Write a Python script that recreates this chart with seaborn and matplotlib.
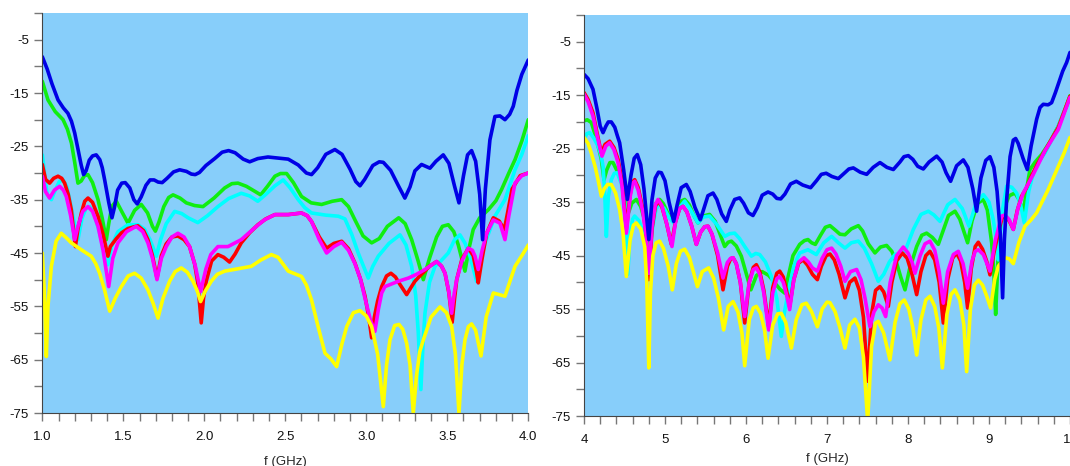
import matplotlib.pyplot as plt
import matplotlib.ticker as ticker
import seaborn as sns

# (f in GHz, |S| in dB)

# Left panel: 1 - 4 GHz
L_BLUE = [(1.0, -8.2), (1.03, -10.5), (1.06, -13.3), (1.097, -16.3), (1.13, -17.8), (1.158, -18.8), (1.18, -20.3),
          (1.2, -22.5), (1.22, -25.5), (1.24, -28.5), (1.255, -30.3), (1.27, -29.6), (1.29, -27.6), (1.31, -26.8),
          (1.333, -26.6), (1.355, -27.5), (1.37, -29.0), (1.385, -31.3), (1.41, -35.5), (1.43, -38.4), (1.445, -36.5),
          (1.465, -33.2), (1.49, -31.9), (1.512, -31.8), (1.54, -32.8), (1.565, -35.0), (1.586, -35.8), (1.61, -34.5),
          (1.64, -32.3), (1.665, -31.3), (1.69, -31.3), (1.715, -31.7), (1.74, -31.8), (1.77, -31.0), (1.81, -29.8),
          (1.848, -29.4), (1.89, -29.7), (1.92, -30.2), (1.944, -30.3), (1.97, -29.9), (2.01, -28.6), (2.064, -27.3),
          (2.11, -26.1), (2.15, -25.8), (2.19, -26.2), (2.24, -27.4), (2.28, -27.9), (2.33, -27.3), (2.393, -27.0),
          (2.455, -27.2), (2.518, -27.4), (2.58, -28.5), (2.63, -30.0), (2.662, -30.3), (2.7, -29.0), (2.75, -26.5),
          (2.806, -25.6), (2.85, -26.5), (2.9, -29.3), (2.935, -31.6), (2.961, -32.4), (2.99, -31.2), (3.04, -28.6),
          (3.08, -27.9), (3.105, -28.0), (3.15, -29.5), (3.2, -32.5), (3.238, -34.7), (3.27, -32.6), (3.3, -29.6),
          (3.341, -28.4), (3.393, -29.1), (3.43, -27.8), (3.475, -26.6), (3.51, -28.2), (3.545, -32.5),
          (3.572, -35.6), (3.6, -30.5), (3.625, -26.6), (3.65, -25.8), (3.675, -27.8), (3.7, -34.0), (3.718, -42.5),
          (3.735, -33.0), (3.763, -23.8), (3.794, -19.4), (3.825, -19.3), (3.856, -20.0), (3.885, -19.0),
          (3.907, -17.5), (3.93, -14.5), (3.96, -11.5), (4.0, -8.8)]

L_GREEN = [(1.0, -12.8), (1.035, -16.3), (1.08, -18.5), (1.128, -20.0), (1.155, -21.8), (1.18, -24.4), (1.2, -28.0),
           (1.22, -31.9), (1.24, -31.5), (1.26, -30.5), (1.282, -30.3), (1.31, -31.8), (1.344, -35.0), (1.37, -38.5),
           (1.395, -42.5), (1.41, -39.5), (1.43, -36.2), (1.457, -35.3), (1.49, -37.2), (1.529, -39.4), (1.57, -37.0),
           (1.611, -35.9), (1.65, -37.5), (1.68, -40.0), (1.698, -40.9), (1.72, -39.2), (1.75, -36.3), (1.78, -34.6),
           (1.807, -34.1), (1.85, -34.7), (1.889, -35.6), (1.94, -36.1), (1.992, -36.3), (2.06, -34.7),
           (2.126, -32.8), (2.17, -32.0), (2.208, -31.9), (2.26, -32.5), (2.31, -33.4), (2.348, -34.1),
           (2.39, -32.5), (2.436, -30.6), (2.47, -30.1), (2.508, -30.1), (2.55, -31.8), (2.6, -34.4), (2.66, -35.6),
           (2.724, -35.9), (2.79, -35.3), (2.848, -35.0), (2.89, -36.3), (2.93, -38.8), (2.98, -41.8), (3.033, -43.1),
           (3.08, -42.3), (3.13, -40.0), (3.2, -38.4), (3.24, -39.5), (3.28, -42.5), (3.32, -46.5), (3.352, -50.0),
           (3.39, -46.0), (3.434, -42.0), (3.47, -40.0), (3.506, -39.7), (3.54, -41.0), (3.568, -43.5),
           (3.609, -48.4), (3.635, -44.0), (3.66, -40.6), (3.7, -38.4), (3.753, -36.9), (3.8, -35.2), (3.835, -33.1),
           (3.88, -30.0), (3.918, -27.5), (3.96, -24.0), (4.0, -20.0)]

L_CYAN = [(1.0, -26.6), (1.015, -30.5), (1.03, -34.0), (1.056, -35.0), (1.08, -33.2), (1.105, -31.6), (1.128, -31.3),
          (1.15, -32.5), (1.169, -35.0), (1.195, -39.0), (1.22, -42.5), (1.245, -38.5), (1.27, -36.6),
          (1.292, -36.3), (1.32, -37.6), (1.354, -41.3), (1.38, -44.5), (1.405, -47.2), (1.43, -43.5),
          (1.467, -41.0), (1.529, -39.7), (1.59, -39.7), (1.63, -40.5), (1.665, -42.5), (1.704, -45.6),
          (1.73, -42.5), (1.765, -39.5), (1.817, -37.2), (1.86, -37.6), (1.9, -38.4), (1.96, -39.3), (2.02, -38.0),
          (2.084, -36.3), (2.15, -34.8), (2.228, -33.8), (2.28, -34.3), (2.33, -35.3), (2.38, -34.0),
          (2.436, -32.4), (2.487, -31.3), (2.53, -32.8), (2.58, -35.0), (2.62, -36.5), (2.662, -37.5),
          (2.75, -37.9), (2.827, -38.1), (2.868, -38.6), (2.91, -41.5), (2.95, -45.0), (3.012, -49.7),
          (3.04, -47.5), (3.074, -45.6), (3.14, -43.2), (3.208, -41.6), (3.245, -43.5), (3.28, -47.5),
          (3.305, -53.0), (3.321, -60.0), (3.337, -70.6), (3.35, -62.0), (3.362, -56.3), (3.39, -50.5),
          (3.424, -47.5), (3.46, -46.5), (3.506, -45.0), (3.545, -42.5), (3.578, -41.6), (3.61, -43.2),
          (3.64, -45.6), (3.681, -50.3), (3.705, -46.5), (3.733, -43.1), (3.794, -38.1), (3.856, -35.0),
          (3.918, -29.4), (3.96, -26.5), (4.0, -23.0)]

L_RED = [(1.0, -28.4), (1.02, -31.2), (1.045, -31.9), (1.07, -31.0), (1.097, -30.6), (1.12, -31.0), (1.138, -31.9),
         (1.16, -34.0), (1.179, -36.9), (1.204, -43.8), (1.22, -40.5), (1.241, -37.5), (1.262, -35.3),
         (1.282, -34.7), (1.31, -35.5), (1.344, -38.1), (1.375, -41.5), (1.405, -45.6), (1.42, -43.8),
         (1.457, -42.3), (1.49, -41.2), (1.529, -40.4), (1.59, -39.9), (1.625, -40.8), (1.652, -42.5),
         (1.68, -45.5), (1.708, -49.7), (1.735, -45.5), (1.765, -43.3), (1.8, -42.0), (1.837, -41.8),
         (1.875, -42.5), (1.909, -43.8), (1.94, -47.0), (1.96, -50.6), (1.981, -58.1), (1.995, -53.5),
         (2.012, -50.3), (2.045, -46.5), (2.084, -45.3), (2.12, -45.8), (2.156, -46.7), (2.19, -45.2),
         (2.228, -43.1), (2.28, -41.2), (2.331, -39.7), (2.38, -38.6), (2.436, -37.8), (2.518, -37.8),
         (2.6, -37.5), (2.635, -38.0), (2.662, -39.1), (2.71, -42.0), (2.755, -44.1), (2.8, -43.2), (2.848, -42.8),
         (2.89, -44.2), (2.93, -46.9), (2.965, -50.0), (2.992, -53.1), (3.015, -57.0), (3.033, -60.9),
         (3.05, -57.0), (3.07, -54.0), (3.095, -51.3), (3.125, -49.3), (3.152, -48.8), (3.18, -49.5),
         (3.208, -50.9), (3.249, -52.8), (3.275, -51.5), (3.3, -50.3), (3.34, -49.0), (3.39, -47.5),
         (3.434, -46.6), (3.465, -47.5), (3.486, -48.8), (3.51, -52.5), (3.53, -58.0), (3.545, -53.5),
         (3.558, -50.0), (3.59, -46.2), (3.63, -44.1), (3.66, -45.5), (3.68, -48.5), (3.691, -50.6), (3.715, -46.0),
         (3.743, -41.3), (3.784, -38.4), (3.82, -39.0), (3.852, -40.6), (3.875, -37.0), (3.9, -33.0),
         (3.95, -30.5), (4.0, -30.0)]

L_MAGENTA = [(1.0, -30.6), (1.02, -33.5), (1.045, -34.7), (1.075, -33.2), (1.107, -32.5), (1.13, -33.2),
             (1.148, -34.4), (1.175, -38.0), (1.2, -42.5), (1.22, -40.0), (1.25, -37.2), (1.282, -36.3),
             (1.31, -37.2), (1.344, -40.0), (1.375, -44.5), (1.41, -51.3), (1.435, -46.0), (1.467, -43.1),
             (1.52, -41.0), (1.58, -40.0), (1.62, -41.0), (1.652, -43.1), (1.68, -46.0), (1.708, -50.0),
             (1.735, -46.0), (1.765, -43.8), (1.8, -42.0), (1.837, -41.3), (1.875, -42.0), (1.909, -43.8),
             (1.945, -47.5), (1.977, -52.2), (2.01, -48.0), (2.04, -45.3), (2.084, -43.8), (2.146, -43.8),
             (2.228, -42.5), (2.31, -40.3), (2.37, -38.8), (2.436, -37.8), (2.518, -37.8), (2.6, -37.5),
             (2.635, -38.0), (2.662, -39.1), (2.71, -42.5), (2.755, -45.0), (2.8, -43.8), (2.848, -43.0),
             (2.89, -44.5), (2.93, -47.0), (2.965, -50.0), (2.992, -53.5), (3.025, -57.5), (3.053, -59.7),
             (3.075, -55.5), (3.095, -52.5), (3.115, -51.3), (3.198, -50.3), (3.26, -49.7), (3.31, -49.0),
             (3.362, -48.1), (3.4, -47.3), (3.434, -46.6), (3.465, -47.5), (3.486, -48.8), (3.508, -52.0),
             (3.527, -56.3), (3.543, -52.5), (3.558, -50.0), (3.59, -46.5), (3.63, -44.1), (3.655, -44.5),
             (3.671, -45.6), (3.691, -48.1), (3.715, -44.5), (3.743, -41.3), (3.784, -38.8), (3.825, -39.4),
             (3.856, -42.5), (3.88, -38.0), (3.918, -31.9), (3.96, -30.5), (4.0, -30.0)]

L_YELLOW = [(1.0, -45.0), (1.012, -52.0), (1.025, -64.4), (1.035, -55.0), (1.056, -47.5), (1.085, -42.8),
            (1.117, -41.3), (1.15, -42.2), (1.179, -43.1), (1.241, -44.4), (1.302, -45.6), (1.33, -47.0),
            (1.354, -48.8), (1.385, -52.0), (1.416, -55.9), (1.45, -53.5), (1.488, -51.3), (1.53, -49.3),
            (1.57, -48.8), (1.61, -49.7), (1.652, -51.9), (1.685, -54.5), (1.714, -57.2), (1.745, -53.5),
            (1.786, -50.3), (1.82, -48.5), (1.858, -47.8), (1.895, -48.6), (1.93, -50.3), (1.955, -52.0),
            (1.977, -54.1), (2.005, -52.2), (2.043, -50.3), (2.08, -49.0), (2.126, -48.4), (2.2, -48.0),
            (2.29, -47.5), (2.35, -46.3), (2.414, -45.3), (2.455, -45.8), (2.518, -48.4), (2.6, -49.4),
            (2.63, -51.0), (2.662, -53.8), (2.7, -58.5), (2.745, -63.8), (2.78, -64.8), (2.817, -66.3),
            (2.85, -62.0), (2.879, -58.8), (2.92, -56.2), (2.961, -55.8), (3.0, -56.8), (3.033, -58.8),
            (3.07, -64.0), (3.105, -73.8), (3.125, -66.0), (3.146, -61.3), (3.175, -58.6), (3.202, -58.4),
            (3.225, -59.3), (3.249, -61.9), (3.27, -66.0), (3.29, -75.0), (3.31, -68.0), (3.33, -63.5),
            (3.352, -61.3), (3.4, -57.0), (3.455, -55.1), (3.495, -56.2), (3.527, -58.8), (3.55, -64.0),
            (3.572, -75.0), (3.59, -66.0), (3.609, -61.3), (3.63, -58.8), (3.65, -58.3), (3.675, -59.5),
            (3.708, -64.3), (3.74, -57.0), (3.784, -52.5), (3.82, -52.8), (3.856, -53.1), (3.89, -50.0),
            (3.918, -47.5), (3.96, -45.5), (4.0, -43.5)]

# Right panel: 4 - 10 GHz
R_BLUE = [(4.0, -11.1), (4.05, -11.9), (4.111, -13.9), (4.16, -17.5), (4.2, -20.8), (4.235, -22.0), (4.27, -20.8),
          (4.3, -20.0), (4.337, -20.0), (4.38, -21.0), (4.41, -22.5), (4.44, -23.9), (4.49, -29.0), (4.535, -34.5),
          (4.58, -30.0), (4.62, -26.8), (4.658, -26.1), (4.7, -28.0), (4.74, -32.5), (4.8, -42.0), (4.84, -34.5),
          (4.88, -30.5), (4.92, -29.4), (4.955, -29.5), (5.0, -31.0), (5.05, -35.0), (5.107, -38.6), (5.15, -35.5),
          (5.2, -32.3), (5.263, -31.7), (5.31, -33.0), (5.37, -36.0), (5.436, -38.3), (5.48, -36.2), (5.53, -33.8),
          (5.593, -33.3), (5.64, -34.5), (5.7, -37.2), (5.757, -38.6), (5.8, -36.5), (5.86, -34.5), (5.922, -34.2),
          (5.97, -35.2), (6.03, -37.0), (6.086, -37.5), (6.14, -36.0), (6.2, -33.7), (6.272, -33.1), (6.33, -33.5),
          (6.38, -34.3), (6.428, -34.4), (6.48, -33.5), (6.55, -31.6), (6.621, -31.1), (6.7, -31.8), (6.798, -32.3),
          (6.87, -31.0), (6.93, -29.8), (6.99, -29.6), (7.06, -30.2), (7.14, -30.6), (7.22, -29.5), (7.27, -28.8),
          (7.325, -28.6), (7.41, -29.4), (7.49, -29.8), (7.57, -28.5), (7.654, -27.6), (7.74, -28.5),
          (7.819, -28.9), (7.9, -27.5), (7.95, -26.5), (8.004, -26.3), (8.06, -27.0), (8.12, -28.3), (8.189, -28.8),
          (8.26, -27.5), (8.354, -26.4), (8.42, -27.5), (8.47, -29.5), (8.526, -31.1), (8.6, -28.2), (8.683, -27.1),
          (8.74, -28.5), (8.8, -32.5), (8.847, -36.7), (8.9, -30.5), (8.96, -27.2), (9.012, -26.5), (9.06, -28.5),
          (9.1, -33.0), (9.14, -41.0), (9.168, -52.9), (9.19, -42.0), (9.218, -34.5), (9.26, -26.5), (9.3, -23.4),
          (9.329, -23.1), (9.36, -24.0), (9.42, -26.8), (9.473, -28.9), (9.52, -24.5), (9.588, -19.5),
          (9.63, -17.3), (9.67, -16.7), (9.73, -16.8), (9.773, -16.4), (9.82, -14.5), (9.856, -12.9),
          (9.91, -10.5), (9.958, -8.9), (10.0, -7.0)]

R_GREEN = [(4.0, -19.8), (4.04, -19.6), (4.09, -20.1), (4.15, -23.0), (4.214, -27.0), (4.247, -30.8), (4.28, -29.0),
           (4.32, -27.6), (4.358, -27.6), (4.42, -29.5), (4.48, -32.0), (4.535, -37.6), (4.59, -35.2),
           (4.646, -34.5), (4.7, -35.8), (4.77, -39.5), (4.81, -43.3), (4.85, -38.0), (4.89, -35.2), (4.934, -34.5),
           (4.98, -35.3), (5.04, -37.2), (5.1, -38.3), (5.16, -36.0), (5.2, -34.8), (5.243, -34.5), (5.3, -35.5),
           (5.36, -37.6), (5.407, -38.9), (5.47, -37.6), (5.55, -37.3), (5.62, -38.6), (5.68, -41.0),
           (5.737, -43.3), (5.78, -42.5), (5.82, -42.3), (5.88, -43.2), (5.942, -45.1), (6.0, -48.2), (6.06, -51.4),
           (6.13, -48.7), (6.2, -48.0), (6.28, -48.7), (6.35, -50.0), (6.42, -51.3), (6.477, -52.0), (6.52, -49.0),
           (6.58, -45.0), (6.663, -42.9), (6.72, -42.2), (6.765, -42.0), (6.81, -42.6), (6.856, -42.9),
           (6.92, -41.2), (6.98, -39.7), (7.037, -39.4), (7.1, -40.2), (7.16, -41.0), (7.222, -41.1), (7.3, -40.0),
           (7.387, -39.4), (7.44, -40.4), (7.51, -42.8), (7.592, -44.5), (7.66, -43.4), (7.736, -43.1),
           (7.8, -44.2), (7.86, -46.4), (7.91, -49.0), (7.963, -51.4), (8.02, -47.5), (8.107, -43.3),
           (8.17, -41.2), (8.23, -40.8), (8.3, -41.6), (8.374, -42.9), (8.43, -40.5), (8.5, -37.5), (8.58, -36.7),
           (8.64, -38.2), (8.69, -40.5), (8.736, -42.6), (8.79, -38.5), (8.86, -35.2), (8.93, -34.5),
           (8.98, -36.5), (9.033, -42.6), (9.06, -48.0), (9.082, -56.0), (9.11, -46.0), (9.14, -40.0),
           (9.177, -36.4), (9.25, -33.8), (9.32, -33.3), (9.37, -34.5), (9.424, -37.0), (9.46, -33.0),
           (9.506, -28.9), (9.57, -27.5), (9.65, -26.1), (9.75, -23.8), (9.856, -20.8), (9.93, -18.0),
           (10.0, -15.1)]

R_CYAN = [(4.0, -23.3), (4.035, -22.2), (4.07, -22.0), (4.12, -23.0), (4.173, -24.5), (4.21, -26.2), (4.235, -28.3),
          (4.255, -33.0), (4.276, -41.4), (4.3, -34.0), (4.337, -30.8), (4.375, -29.6), (4.41, -29.5),
          (4.46, -31.5), (4.5, -34.5), (4.52, -39.0), (4.54, -48.5), (4.57, -41.0), (4.6, -38.2), (4.625, -37.6),
          (4.68, -38.5), (4.74, -41.0), (4.8, -44.5), (4.85, -39.5), (4.89, -36.2), (4.934, -35.4), (4.99, -36.2),
          (5.05, -37.9), (5.107, -38.9), (5.17, -36.2), (5.243, -34.8), (5.31, -36.3), (5.407, -38.9),
          (5.47, -37.8), (5.55, -37.6), (5.64, -39.2), (5.737, -41.4), (5.8, -40.9), (5.86, -40.8), (5.92, -41.8),
          (5.984, -43.3), (6.066, -45.1), (6.12, -44.6), (6.169, -44.8), (6.24, -46.2), (6.313, -48.9),
          (6.38, -53.0), (6.436, -60.1), (6.47, -56.0), (6.519, -52.0), (6.59, -47.0), (6.663, -44.5),
          (6.765, -43.9), (6.868, -44.8), (6.96, -42.6), (7.057, -41.4), (7.14, -42.6), (7.222, -43.6),
          (7.3, -42.6), (7.387, -42.3), (7.46, -43.6), (7.55, -46.5), (7.633, -49.8), (7.7, -48.5), (7.77, -46.2),
          (7.839, -44.8), (7.9, -44.6), (7.963, -44.2), (8.066, -40.1), (8.16, -37.3), (8.251, -36.7),
          (8.32, -37.4), (8.395, -38.6), (8.49, -35.5), (8.58, -34.5), (8.67, -36.2), (8.753, -39.5),
          (8.84, -35.2), (8.93, -33.6), (9.0, -35.0), (9.053, -38.3), (9.09, -42.0), (9.115, -45.8),
          (9.16, -37.0), (9.218, -32.0), (9.28, -32.2), (9.341, -33.3), (9.39, -35.5), (9.436, -38.9),
          (9.49, -33.0), (9.547, -29.5), (9.62, -27.3), (9.691, -25.8), (9.77, -23.5), (9.856, -20.8),
          (9.93, -18.0), (10.0, -15.5)]

R_RED = [(4.0, -14.5), (4.05, -15.8), (4.111, -18.3), (4.16, -22.0), (4.214, -25.8), (4.26, -24.2), (4.317, -23.6),
         (4.37, -24.8), (4.42, -27.0), (4.47, -31.0), (4.523, -40.1), (4.57, -33.5), (4.6, -31.2), (4.626, -30.8),
         (4.67, -32.3), (4.728, -36.4), (4.765, -41.0), (4.8, -49.5), (4.84, -40.0), (4.88, -35.8), (4.914, -34.8),
         (4.96, -35.8), (5.02, -39.0), (5.078, -42.9), (5.13, -38.7), (5.18, -36.2), (5.222, -35.8), (5.27, -36.8),
         (5.33, -39.5), (5.387, -42.9), (5.44, -40.6), (5.49, -39.6), (5.531, -39.5), (5.58, -41.0), (5.65, -45.0),
         (5.716, -51.4), (5.77, -47.0), (5.81, -45.6), (5.84, -45.4), (5.88, -46.5), (5.93, -50.0), (5.984, -57.6),
         (6.04, -50.0), (6.09, -47.2), (6.128, -46.7), (6.17, -48.0), (6.22, -51.5), (6.28, -58.3), (6.33, -51.0),
         (6.38, -48.3), (6.416, -47.9), (6.46, -49.0), (6.5, -51.5), (6.539, -54.5), (6.59, -49.5), (6.65, -46.4),
         (6.704, -45.8), (6.76, -46.8), (6.82, -48.5), (6.881, -49.5), (6.93, -47.0), (6.99, -45.0),
         (7.037, -44.7), (7.09, -45.8), (7.15, -48.5), (7.222, -52.9), (7.28, -50.0), (7.345, -49.2),
         (7.4, -51.5), (7.45, -56.5), (7.502, -68.5), (7.55, -56.0), (7.6, -51.5), (7.654, -50.8), (7.7, -51.8),
         (7.757, -54.5), (7.8, -50.0), (7.86, -46.0), (7.93, -44.5), (7.99, -45.5), (8.05, -48.5), (8.107, -52.3),
         (8.16, -48.0), (8.22, -45.0), (8.271, -44.2), (8.33, -45.8), (8.385, -50.0), (8.436, -57.6),
         (8.49, -49.5), (8.55, -45.5), (8.6, -44.5), (8.65, -46.0), (8.7, -50.0), (8.736, -54.8), (8.78, -47.5),
         (8.83, -43.3), (8.868, -42.5), (8.92, -43.8), (8.97, -46.0), (9.012, -48.6), (9.06, -44.5),
         (9.115, -40.8), (9.16, -38.0), (9.197, -37.6), (9.25, -38.5), (9.3, -40.1), (9.35, -36.5), (9.403, -33.9),
         (9.46, -32.4), (9.526, -30.1), (9.6, -27.8), (9.691, -25.4), (9.77, -23.3), (9.856, -21.0), (9.93, -18.0),
         (10.0, -15.2)]

R_MAGENTA = [(4.0, -14.8), (4.05, -16.2), (4.111, -18.9), (4.16, -22.5), (4.222, -26.4), (4.27, -24.5),
             (4.317, -23.9), (4.37, -25.2), (4.42, -27.6), (4.47, -32.0), (4.523, -40.8), (4.57, -34.0),
             (4.6, -31.5), (4.626, -31.1), (4.67, -32.8), (4.728, -37.0), (4.765, -41.0), (4.8, -48.3),
             (4.84, -39.5), (4.88, -35.5), (4.914, -34.5), (4.96, -35.6), (5.02, -39.0), (5.086, -43.3),
             (5.13, -38.7), (5.18, -36.2), (5.222, -35.8), (5.27, -36.8), (5.33, -39.5), (5.387, -42.9),
             (5.44, -40.6), (5.49, -39.6), (5.531, -39.5), (5.58, -41.0), (5.65, -44.5), (5.716, -49.2),
             (5.77, -46.3), (5.81, -45.5), (5.84, -45.4), (5.88, -46.5), (5.93, -50.0), (5.984, -56.4),
             (6.04, -50.0), (6.09, -47.6), (6.128, -47.3), (6.17, -48.5), (6.22, -52.0), (6.28, -58.9),
             (6.33, -52.0), (6.38, -49.3), (6.416, -48.9), (6.46, -50.0), (6.5, -52.3), (6.539, -55.1),
             (6.59, -49.5), (6.65, -46.2), (6.716, -45.4), (6.77, -46.2), (6.82, -47.3), (6.881, -47.9),
             (6.94, -45.5), (7.0, -43.9), (7.057, -43.6), (7.11, -44.7), (7.17, -47.0), (7.222, -49.8),
             (7.29, -48.0), (7.366, -47.6), (7.42, -49.5), (7.47, -53.0), (7.53, -58.3), (7.58, -55.5),
             (7.633, -54.2), (7.68, -54.8), (7.724, -56.4), (7.78, -50.0), (7.86, -45.0), (7.942, -43.4),
             (8.0, -44.5), (8.05, -46.2), (8.086, -48.3), (8.15, -45.0), (8.21, -42.8), (8.271, -42.3),
             (8.33, -44.0), (8.385, -48.0), (8.436, -53.9), (8.49, -48.0), (8.56, -44.8), (8.621, -44.2),
             (8.68, -46.5), (8.736, -51.1), (8.79, -46.0), (8.83, -44.2), (8.868, -43.9), (8.93, -44.8),
             (9.012, -47.9), (9.08, -42.0), (9.156, -37.6), (9.197, -37.4), (9.25, -38.3), (9.3, -40.1),
             (9.36, -36.0), (9.424, -33.3), (9.547, -29.8), (9.691, -25.4), (9.856, -21.4), (10.0, -15.4)]

R_YELLOW = [(4.0, -22.9), (4.05, -24.0), (4.09, -25.8), (4.14, -28.5), (4.173, -30.8), (4.214, -33.9),
            (4.25, -32.5), (4.29, -31.7), (4.337, -31.7), (4.39, -33.3), (4.44, -36.4), (4.48, -40.5),
            (4.523, -48.9), (4.57, -42.0), (4.61, -39.3), (4.646, -38.9), (4.7, -40.0), (4.749, -43.3),
            (4.775, -50.0), (4.8, -66.0), (4.82, -52.0), (4.85, -45.0), (4.89, -42.6), (4.934, -42.3),
            (4.98, -43.6), (5.04, -47.0), (5.09, -51.4), (5.14, -46.5), (5.19, -44.2), (5.243, -43.8), (5.3, -45.3),
            (5.35, -48.0), (5.4, -50.8), (5.46, -48.0), (5.539, -47.3), (5.6, -49.2), (5.66, -53.0), (5.724, -58.9),
            (5.78, -54.5), (5.84, -53.6), (5.9, -55.5), (5.95, -59.5), (5.984, -65.6), (6.04, -57.0), (6.09, -54.8),
            (6.128, -54.5), (6.18, -55.8), (6.23, -59.0), (6.272, -64.2), (6.33, -58.0), (6.39, -55.9),
            (6.436, -55.8), (6.49, -57.5), (6.56, -62.3), (6.62, -57.0), (6.69, -54.2), (6.745, -53.9),
            (6.81, -55.5), (6.881, -58.3), (6.94, -55.0), (7.0, -53.7), (7.037, -53.8), (7.1, -55.5), (7.16, -58.5),
            (7.222, -62.3), (7.28, -58.0), (7.345, -56.9), (7.4, -58.5), (7.45, -64.0), (7.502, -76.0),
            (7.55, -62.0), (7.6, -57.6), (7.633, -57.3), (7.7, -59.5), (7.777, -64.5), (7.84, -57.5), (7.9, -54.0),
            (7.954, -53.3), (8.01, -55.0), (8.06, -58.5), (8.107, -63.6), (8.16, -57.0), (8.22, -53.3),
            (8.271, -52.6), (8.33, -54.5), (8.38, -58.5), (8.424, -66.0), (8.48, -56.0), (8.53, -52.3),
            (8.58, -51.4), (8.64, -53.3), (8.69, -58.0), (8.724, -66.7), (8.77, -55.0), (8.82, -50.5),
            (8.868, -49.6), (8.92, -50.5), (8.97, -52.5), (9.02, -54.8), (9.07, -49.5), (9.115, -47.0),
            (9.197, -45.4), (9.25, -45.6), (9.3, -46.5), (9.37, -42.5), (9.444, -39.5), (9.52, -38.3),
            (9.588, -37.0), (9.66, -34.8), (9.732, -32.6), (9.856, -28.3), (9.93, -25.7), (10.0, -22.9)]

COLORS = {'green': '#10EE10', 'cyan': '#00FFFF', 'red': '#FF0000',
          'magenta': '#FF00FF', 'yellow': '#FFFF00', 'blue': '#0000E6'}

# drawing order: blue last so its narrow dips stay visible
left_series = [('green', L_GREEN), ('cyan', L_CYAN), ('red', L_RED),
               ('magenta', L_MAGENTA), ('yellow', L_YELLOW), ('blue', L_BLUE)]
right_series = [('green', R_GREEN), ('cyan', R_CYAN), ('red', R_RED),
                ('magenta', R_MAGENTA), ('yellow', R_YELLOW), ('blue', R_BLUE)]

sns.set_style("ticks")
plt.rcParams['font.family'] = ['Liberation Sans', 'DejaVu Sans']

fig = plt.figure(figsize=(10.7, 4.66), dpi=100)
ax1 = fig.add_axes([42.3 / 1070, 53 / 466, 486 / 1070, 400 / 466])
ax2 = fig.add_axes([584 / 1070, 50 / 466, 486 / 1070, 401 / 466])


def style_axes(ax, xmin, xmax, major, minor, fmt, labelpad):
    ax.set_facecolor('#87CEFA')
    ax.set_xlim(xmin, xmax)
    ax.set_ylim(-75, 0)
    ax.spines['top'].set_visible(False)
    ax.spines['right'].set_visible(False)
    ax.spines['left'].set_color('#444444')
    ax.spines['bottom'].set_color('#444444')
    ax.xaxis.set_major_locator(ticker.MultipleLocator(major))
    ax.xaxis.set_minor_locator(ticker.MultipleLocator(minor))
    ax.xaxis.set_major_formatter(ticker.FormatStrFormatter(fmt))
    yt = list(range(-75, 1, 5))
    ax.set_yticks(yt)
    ax.set_yticklabels([str(v) if v % 10 != 0 else '' for v in yt])
    ax.tick_params(which='both', direction='out', length=6, width=1, color='#777777',
                   labelsize=9.5, labelcolor='#111111')
    ax.tick_params(axis='x', pad=7)
    ax.set_xlabel('f (GHz)', fontsize=9.5, labelpad=labelpad)
    ax.set_ylabel('')


for ax, series in [(ax1, left_series), (ax2, right_series)]:
    for name, pts in series:
        f = [p[0] for p in pts]
        db = [p[1] for p in pts]
        sns.lineplot(x=f, y=db, ax=ax, color=COLORS[name], lw=2.6,
                     estimator=None, sort=False)

style_axes(ax1, 1.0, 4.0, 0.5, 0.1, '%.1f', 9)
style_axes(ax2, 4, 10, 1, 0.2, '%d', 5)

fig.savefig('out.png', dpi=100)
